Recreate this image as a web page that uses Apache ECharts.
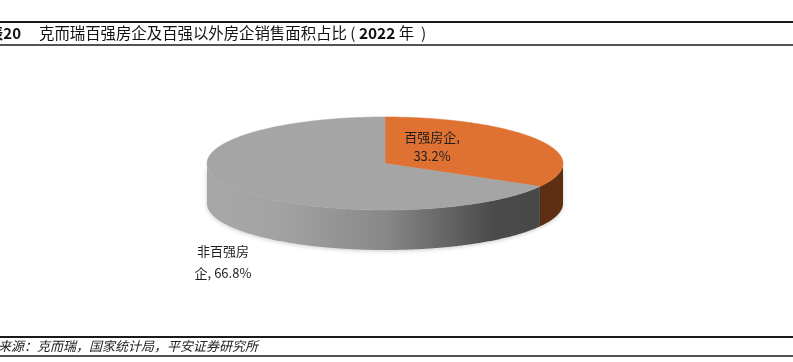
<!DOCTYPE html>
<html><head><meta charset="utf-8">
<script src="https://cdn.jsdelivr.net/npm/echarts@6/dist/echarts.min.js"></script>
<style>html,body{margin:0;padding:0;background:#fff;overflow:hidden}#c{width:793px;height:362px}</style>
</head><body><div id="c"></div>
<script>
// ---- data ----
const categories = ['百强房企', '非百强房企'];
const values = [33.2, 66.8];
const labelTexts = ['百强房企,\n33.2%', '非百强房\n企, 66.8%'];
const titleLead = '图表20';
const titleMain = '克而瑞百强房企及百强以外房企销售面积占比';
const titleYear = '2022';
const titleYearUnit = '年';
const sourceText = '资料来源：克而瑞，国家统计局，平安证券研究所';

// ---- layout / style ----
const FONT = '"Noto Sans CJK SC", "Noto Sans", sans-serif';
const geo = {cx: 385, cy: 163.5, rx: 178, ry: 46.5, depth: 40};
const topColors = ['#df7233', '#a5a5a5'];
const sideFills = [
  '#5e2f12',
  new echarts.graphic.LinearGradient(geo.cx - geo.rx, 0, geo.cx + geo.rx, 0, [
    {offset: 0, color: '#a7a7a7'},
    {offset: 0.2, color: '#a3a3a3'},
    {offset: 0.5, color: '#888888'},
    {offset: 0.8, color: '#4b4b4b'},
    {offset: 1, color: '#464646'}
  ], true)
];
const labelOffsets = [[47, -17], [-162, 99]];
const labelLineHeights = [19, 22];

const total = values.reduce((a, b) => a + b, 0);
const starts = [], ends = [];
let acc = -90;
values.forEach(v => { starts.push(acc); acc += v / total * 360; ends.push(acc); });

function renderItem(params, api) {
  const i = params.dataIndex;
  const a = starts[i], b = ends[i];
  const {cx, cy, rx, ry, depth} = geo;
  const pt = (deg, dy) => { const r = deg * Math.PI / 180; return [cx + rx * Math.cos(r), cy + ry * Math.sin(r) + dy]; };
  const arc = (s, e, dy) => {
    const pts = []; const n = Math.max(2, Math.ceil((e - s) / 0.5));
    for (let k = 0; k <= n; k++) pts.push(pt(s + (e - s) * k / n, dy));
    return pts;
  };
  const children = [];
  children.push({
    type: 'polygon', z2: 10,
    shape: {points: [[cx, cy]].concat(arc(a, b, 0))},
    style: {fill: topColors[i], stroke: topColors[i], lineWidth: 0.6}
  });
  [[0, 180], [360, 540], [-360, -180]].forEach(([lo, hi]) => {
    const s = Math.max(a, lo), e = Math.min(b, hi);
    if (e > s) {
      const top = arc(s, e, 0), bot = arc(s, e, depth).reverse();
      children.push({
        type: 'polygon', z2: 1,
        shape: {points: top.concat(bot)},
        style: {fill: sideFills[i], shadowBlur: 4, shadowColor: 'rgba(0,0,0,0.2)', shadowOffsetY: 1}
      });
    }
  });
  children.push({
    type: 'text', z2: 20,
    x: cx + labelOffsets[i][0], y: cy + labelOffsets[i][1],
    style: {
      text: labelTexts[i], fill: '#1e1e1e', font: '13px ' + FONT,
      align: 'center', verticalAlign: 'middle', lineHeight: labelLineHeights[i]
    }
  });
  return {type: 'group', children};
}

const chart = echarts.init(document.getElementById('c'), null, {renderer: 'canvas'});
chart.setOption({
  animation: false,
  backgroundColor: '#ffffff',
  series: [{
    type: 'custom',
    coordinateSystem: 'none',
    renderItem: renderItem,
    data: values.map((v, i) => ({name: categories[i], value: v}))
  }],
  graphic: [
    {type: 'line', shape: {x1: 0, y1: 22, x2: 793, y2: 22}, style: {stroke: '#1a1a1a', lineWidth: 2}},
    {type: 'line', shape: {x1: 0, y1: 45, x2: 793, y2: 45}, style: {stroke: '#1a1a1a', lineWidth: 1.4}},
    {type: 'line', shape: {x1: 0, y1: 337, x2: 793, y2: 337}, style: {stroke: '#1a1a1a', lineWidth: 2}},
    {type: 'line', shape: {x1: 0, y1: 356, x2: 793, y2: 356}, style: {stroke: '#1a1a1a', lineWidth: 1.4}},
    {type: 'text', x: 21, y: 33.5, style: {text: titleLead, fill: '#111', font: 'bold 15px ' + FONT, align: 'right', verticalAlign: 'middle'}},
    {type: 'text', x: 39, y: 33.5, style: {
      text: titleMain + ' ( {b|' + titleYear + '} ' + titleYearUnit + '  )',
      fill: '#111', font: '15.4px ' + FONT, align: 'left', verticalAlign: 'middle',
      rich: {b: {font: 'bold 15.4px ' + FONT, fill: '#111'}}
    }},
    {type: 'text', x: -28, y: 346.5, style: {text: sourceText, fill: '#222', font: 'italic 13px ' + FONT, align: 'left', verticalAlign: 'middle'}}
  ]
});
</script>
</body></html>
